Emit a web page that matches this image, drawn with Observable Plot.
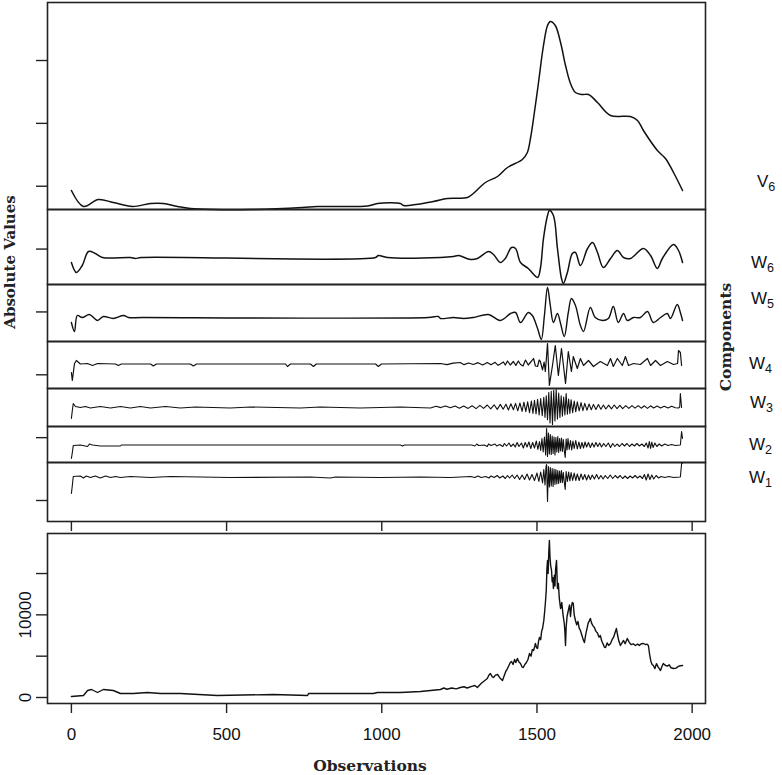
<!DOCTYPE html>
<html><head><meta charset="utf-8">
<script src="https://cdn.jsdelivr.net/npm/d3@7"></script>
<script src="https://cdn.jsdelivr.net/npm/@observablehq/plot@0.6"></script>
<style>
body{margin:0;background:#fff;}
#chart{position:relative;width:782px;height:775px;overflow:hidden;background:#fff;}
#chart svg{position:absolute;left:0;}
.lab{position:absolute;font-family:"Liberation Sans",Arial,sans-serif;font-size:17px;line-height:17px;color:#111;white-space:nowrap;}
.lab sub{font-size:12.5px;vertical-align:-4px;line-height:0;}
.ttl{position:absolute;font-family:"DejaVu Serif",serif;font-weight:bold;color:#222;white-space:nowrap;transform:translate(-50%,-50%);}
</style></head><body><div id="chart"></div>
<script>
// ---- data: [observation, value] ----
const V6 = [[0,1503],[39,431],[87,900],[135,699],[197,431],[255,632],[296,632],[342,431],[383,297],[458,230],[577,230],[744,364],[793,431],[954,465],[986,632],[1060,632],[1070,498],[1166,766],[1211,967],[1276,1034],[1295,1302],[1334,2039],[1373,2441],[1405,3044],[1453,3580],[1469,4049],[1479,4987],[1489,6327],[1505,8739],[1521,11218],[1534,12558],[1543,12826],[1559,12558],[1576,11419],[1592,9878],[1608,8672],[1624,8069],[1646,7935],[1666,7935],[1695,7399],[1737,6528],[1801,6461],[1824,6193],[1843,5523],[1888,4183],[1914,3647],[1940,2709],[1969,1503]];
const W6 = [[0,-250],[16,-750],[35,-400],[55,300],[77,200],[100,0],[190,0],[206,-50],[225,0],[980,0],[989,100],[1018,0],[1189,0],[1231,50],[1247,100],[1286,-100],[1308,-50],[1344,300],[1360,150],[1382,-250],[1398,-50],[1418,500],[1431,450],[1447,-250],[1472,-550],[1502,-1000],[1511,-550],[1521,950],[1534,2100],[1540,2350],[1553,2100],[1566,450],[1579,-1050],[1585,-1300],[1598,-750],[1614,200],[1624,250],[1640,-400],[1663,450],[1679,750],[1695,250],[1714,-500],[1737,-50],[1759,350],[1779,0],[1801,-50],[1843,450],[1866,100],[1888,-550],[1904,-50],[1940,650],[1956,350],[1969,-250]];
const W5 = [[0,-200],[10,-560],[19,80],[35,0],[58,120],[84,-120],[103,40],[135,-40],[168,80],[184,0],[229,0],[1150,0],[1182,40],[1189,-40],[1231,0],[1263,-40],[1295,0],[1344,120],[1382,-120],[1415,160],[1431,200],[1447,-200],[1472,200],[1485,80],[1502,-440],[1514,-880],[1524,80],[1534,1200],[1543,480],[1553,-200],[1566,160],[1576,-240],[1588,-760],[1601,200],[1611,760],[1624,480],[1640,-320],[1650,-560],[1672,400],[1688,0],[1711,-120],[1730,-40],[1746,440],[1762,-200],[1779,160],[1791,-120],[1811,0],[1833,0],[1856,240],[1875,-200],[1898,0],[1920,160],[1930,-40],[1952,520],[1962,200],[1969,-120]];
const W4 = [[0,-255],[3,-495],[10,15],[16,105],[29,0],[52,15],[68,-45],[84,15],[142,0],[151,-45],[161,0],[255,0],[264,-60],[274,0],[383,0],[393,-60],[403,0],[690,0],[696,-75],[706,0],[770,0],[780,-75],[789,0],[980,0],[989,-75],[999,0],[1189,15],[1210,-20],[1230,25],[1253,45],[1265,-20],[1280,30],[1295,-15],[1310,40],[1325,-30],[1340,45],[1352,-20],[1365,50],[1375,-40],[1382,0],[1392,60],[1398,-30],[1405,90],[1414,-30],[1424,75],[1432,-40],[1440,90],[1447,-15],[1455,-60],[1463,120],[1472,-30],[1480,60],[1489,165],[1495,-60],[1502,-75],[1507,120],[1511,75],[1518,-180],[1523,60],[1527,-225],[1534,615],[1540,-645],[1550,-45],[1559,555],[1569,-345],[1579,465],[1592,-585],[1601,375],[1611,-225],[1617,225],[1630,-135],[1640,165],[1650,-45],[1666,105],[1682,-75],[1704,75],[1727,-45],[1737,165],[1746,-75],[1759,165],[1775,-45],[1785,225],[1795,-45],[1811,15],[1833,-15],[1856,165],[1866,-45],[1882,105],[1898,-45],[1920,75],[1940,-15],[1953,15],[1956,405],[1962,345],[1966,-45]];
const W3 = [[0,-288],[3,-88],[6,88],[13,13],[29,-13],[45,13],[61,-25],[93,13],[126,-25],[158,13],[190,-25],[222,13],[255,-25],[303,13],[351,-25],[400,0],[512,-25],[577,0],[738,-25],[802,0],[931,-25],[1060,0],[1157,-25],[1175,20],[1190,-15],[1205,25],[1221,-20],[1236,25],[1250,-30],[1264,25],[1278,-35],[1291,30],[1304,-40],[1316,40],[1328,-35],[1340,50],[1351,-45],[1362,55],[1372,-60],[1382,65],[1391,-55],[1400,70],[1408,-75],[1416,80],[1424,-70],[1431,90],[1438,-95],[1445,100],[1452,-110],[1458,120],[1464,-115],[1470,130],[1476,-140],[1482,150],[1487,-160],[1492,170],[1497,-175],[1502,190],[1507,-200],[1512,210],[1517,-220],[1522,240],[1526,-260],[1530,280],[1534,-320],[1538,360],[1542,-400],[1546,390],[1550,-438],[1554,420],[1558,-350],[1562,438],[1566,-300],[1570,350],[1574,-260],[1578,280],[1582,-230],[1586,250],[1590,-200],[1594,338],[1598,-180],[1602,200],[1606,-160],[1610,180],[1615,-140],[1620,150],[1625,-120],[1630,130],[1636,-100],[1642,110],[1648,-90],[1654,90],[1661,-80],[1668,75],[1675,-70],[1682,65],[1690,-60],[1698,60],[1706,-55],[1714,50],[1722,-50],[1731,45],[1740,-45],[1749,50],[1758,-40],[1767,40],[1776,-40],[1786,35],[1796,-35],[1806,35],[1816,-30],[1826,35],[1836,-30],[1846,30],[1856,-35],[1866,30],[1876,-25],[1887,25],[1898,-25],[1910,20],[1922,-25],[1934,20],[1946,-20],[1956,-25],[1960,0],[1962,338],[1966,-13]];
const W2 = [[0,-270],[3,-150],[6,-10],[29,0],[52,-30],[58,20],[68,0],[93,-20],[158,-20],[161,0],[1060,0],[1067,-20],[1073,0],[1290,0],[1300,-20],[1306,20],[1312,-10],[1330,0],[1340,-30],[1344,20],[1352,-10],[1365,20],[1370,-20],[1380,10],[1390,-30],[1395,30],[1402,-20],[1410,40],[1416,-30],[1424,20],[1430,-40],[1436,50],[1442,-30],[1450,40],[1456,-60],[1462,50],[1468,-40],[1474,60],[1480,-70],[1486,50],[1492,-60],[1498,80],[1503,-90],[1508,70],[1512,-110],[1516,130],[1520,-140],[1524,160],[1528,-200],[1531,330],[1534,-230],[1537,240],[1540,-180],[1543,210],[1546,-190],[1549,180],[1552,-170],[1555,160],[1558,-200],[1561,150],[1564,-140],[1567,170],[1570,-150],[1573,130],[1576,-120],[1579,140],[1582,-130],[1585,110],[1588,-110],[1591,-250],[1594,120],[1597,-100],[1600,130],[1604,-90],[1608,90],[1612,-100],[1616,80],[1620,-70],[1625,90],[1630,-80],[1635,60],[1640,-70],[1645,50],[1650,-60],[1655,60],[1660,-40],[1666,50],[1672,-50],[1678,40],[1684,-40],[1690,50],[1696,-30],[1702,40],[1708,-40],[1715,30],[1722,-30],[1730,40],[1737,-50],[1744,30],[1751,-30],[1758,20],[1766,-30],[1774,30],[1782,-20],[1790,30],[1798,-30],[1806,20],[1814,-20],[1822,30],[1830,-20],[1838,20],[1846,-30],[1852,40],[1858,-60],[1862,70],[1866,-70],[1870,60],[1874,-50],[1880,40],[1886,-30],[1894,20],[1902,-20],[1912,20],[1922,-10],[1934,10],[1946,-10],[1962,0],[1966,270],[1969,130]];
const W1 = [[0,-330],[3,-170],[6,10],[29,20],[39,-20],[48,20],[61,-10],[77,20],[93,-20],[110,20],[126,-10],[142,10],[158,-10],[190,10],[255,-10],[319,10],[416,0],[512,-10],[770,0],[834,-20],[851,0],[996,-10],[1125,0],[1221,-10],[1286,10],[1300,-10],[1310,20],[1320,-10],[1335,10],[1345,-20],[1352,20],[1362,-10],[1372,30],[1380,-20],[1390,20],[1398,-30],[1405,30],[1412,-20],[1420,40],[1428,-30],[1436,40],[1444,-50],[1452,40],[1460,-50],[1468,60],[1476,-60],[1484,50],[1492,-70],[1500,80],[1506,-90],[1512,100],[1518,-120],[1522,150],[1526,-160],[1529,200],[1531,250],[1534,-490],[1537,210],[1540,-200],[1543,190],[1546,-180],[1549,170],[1552,-190],[1555,160],[1558,-150],[1561,150],[1564,-140],[1567,130],[1570,-130],[1573,120],[1576,-110],[1579,130],[1582,-110],[1585,90],[1588,-100],[1591,-250],[1594,110],[1598,-90],[1602,100],[1606,-80],[1610,90],[1615,-70],[1620,80],[1625,-70],[1630,60],[1636,-70],[1642,60],[1648,-50],[1654,50],[1660,-60],[1666,40],[1672,-50],[1678,40],[1685,-40],[1692,50],[1699,-40],[1706,30],[1713,-40],[1720,30],[1728,-30],[1736,40],[1744,-30],[1752,30],[1760,-20],[1768,30],[1776,-30],[1784,20],[1792,-30],[1800,20],[1808,-20],[1816,30],[1824,-20],[1832,20],[1840,-30],[1846,50],[1852,-60],[1858,60],[1864,-50],[1870,40],[1876,-40],[1884,30],[1892,-20],[1900,10],[1912,-10],[1925,10],[1940,-10],[1962,0],[1966,270],[1969,280]];
const price = [[0,121],[39,242],[52,847],[65,968],[84,605],[103,968],[135,847],[158,484],[200,484],[245,605],[287,484],[351,484],[470,242],[651,363],[761,242],[764,484],[973,484],[986,605],[1060,605],[1125,726],[1189,968],[1200,1150],[1210,1000],[1225,1150],[1240,1050],[1253,1210],[1265,1300],[1275,1150],[1290,1350],[1300,1450],[1308,1210],[1320,1700],[1330,2000],[1340,2300],[1345,2700],[1350,2904],[1356,2500],[1360,2420],[1366,2700],[1373,2783],[1380,2400],[1389,2057],[1395,2700],[1400,3200],[1405,3500],[1410,3900],[1414,4235],[1418,4356],[1423,4000],[1428,4600],[1432,4235],[1437,4719],[1442,4300],[1447,4114],[1452,3700],[1456,3630],[1461,4000],[1466,4235],[1471,4600],[1476,5324],[1481,5000],[1485,5800],[1489,5687],[1493,6200],[1495,6534],[1499,6000],[1502,5929],[1505,6800],[1508,7260],[1512,7000],[1515,8000],[1518,8349],[1522,9300],[1525,10500],[1527,11374],[1530,13000],[1532,15500],[1534,16577],[1536,15000],[1538,17500],[1540,18997],[1542,17000],[1544,16000],[1547,15367],[1549,14000],[1551,14500],[1553,13189],[1556,14800],[1558,13500],[1560,15500],[1563,16577],[1566,13189],[1569,13800],[1572,12000],[1576,10769],[1580,11500],[1584,10000],[1588,8954],[1590,8000],[1592,6292],[1594,8500],[1597,9800],[1601,10527],[1605,11200],[1608,9800],[1611,11000],[1614,11500],[1617,11374],[1620,10000],[1624,9317],[1628,8800],[1632,9200],[1636,8400],[1640,8107],[1645,7500],[1649,7000],[1653,6655],[1657,7600],[1661,8300],[1665,9000],[1669,9300],[1672,9559],[1676,9000],[1680,8700],[1685,8470],[1690,8000],[1695,7800],[1700,7300],[1704,7502],[1709,6800],[1714,6400],[1717,6100],[1721,6050],[1726,6600],[1731,6300],[1737,6534],[1742,7000],[1747,7300],[1752,7900],[1756,8349],[1760,7500],[1764,6800],[1769,6292],[1774,6600],[1779,6900],[1784,6500],[1791,7139],[1797,6700],[1803,6400],[1810,6500],[1817,6292],[1824,6450],[1830,6300],[1836,6500],[1843,6534],[1850,6400],[1855,6450],[1859,6292],[1863,5200],[1867,4400],[1871,4000],[1875,3872],[1880,3500],[1885,4100],[1890,3700],[1894,3500],[1898,3267],[1902,3700],[1907,4114],[1913,3900],[1920,3800],[1926,3950],[1932,3600],[1940,3509],[1948,3550],[1955,3750],[1962,3850],[1969,3872]];

const componentNames = ["V6","W6","W5","W4","W3","W2","W1"];
const componentData = [V6, W6, W5, W4, W3, W2, W1];
const xTicks = [0, 500, 1000, 1500, 2000];
const xTickLabels = ["0", "500", "1000", "1500", "2000"];
const upperYTicks = [0, 1, 2, 3, 4, 5, 6, 7];
const priceTicks = [0, 5000, 10000, 15000];
const priceTickLabels = ["0", "", "10000", ""];
const yTitle = "Absolute Values";
const rightTitle = "Components";
const xTitle = "Observations";

// ---- layout ----
const W = 782, mL = 47, mR = 77;
const xDomain = [-77, 2043];
const panelTops = [2, 209, 284, 341, 388, 426, 462, 521];
const panelDomains = [[230,14099],[-1350,2400],[-960,1320],[-735,675],[-487.5,462.5],[-350,370],[-890,290]];
const smooth = [true, true, true, false, false, false, false];
const lineWidths = [1.5, 1.5, 1.4, 1.2, 1.1, 1.1, 1.1];
const labelPos = [[757,181],[751,262],[751,298],[749,363],[750,402],[749,444],[749,477]];
const ink = "#111", frameInk = "#222";
const chart = document.getElementById("chart");
const baseStyle = {background: "transparent", overflow: "visible", color: frameInk, fontFamily: "'Liberation Sans', Arial, sans-serif", fontSize: "17px"};

function place(svg, top) { svg.style.top = top + "px"; chart.appendChild(svg); }

// outer axes for stacked components
place(Plot.plot({
  width: W, height: 532, marginLeft: mL, marginRight: mR, marginTop: 2, marginBottom: 11,
  style: baseStyle,
  x: {domain: xDomain}, y: {domain: [-0.334, 7.923]},
  marks: [
    Plot.axisX({ticks: xTicks, tickFormat: () => "", tickSize: 10, strokeWidth: 1.4}),
    Plot.axisY({ticks: upperYTicks, tickFormat: () => "", tickSize: 11, strokeWidth: 1.4})
  ]
}), 0);

// component panels
componentData.forEach((data, i) => {
  const top = panelTops[i], h = panelTops[i + 1] - top;
  place(Plot.plot({
    width: W, height: h, marginLeft: mL, marginRight: mR, marginTop: 0, marginBottom: 0,
    style: baseStyle,
    x: {domain: xDomain, axis: null},
    y: {domain: panelDomains[i], axis: null},
    marks: [
      Plot.frame({stroke: frameInk, strokeWidth: 1.6}),
      Plot.line(data, {x: d => d[0], y: d => d[1], stroke: ink, strokeWidth: lineWidths[i],
        curve: smooth[i] ? "catmull-rom" : "linear"})
    ]
  }), top);
  const lab = document.createElement("div");
  lab.className = "lab";
  lab.style.left = labelPos[i][0] + "px";
  lab.style.top = (labelPos[i][1] - 8) + "px";
  lab.innerHTML = componentNames[i][0] + "<sub>" + componentNames[i].slice(1) + "</sub>";
  chart.appendChild(lab);
});

// original series panel
place(Plot.plot({
  width: W, height: 242, marginLeft: mL, marginRight: mR, marginTop: 0, marginBottom: 72,
  style: baseStyle,
  x: {domain: xDomain}, y: {domain: [-726, 19844]},
  marks: [
    Plot.frame({stroke: frameInk, strokeWidth: 1.6}),
    Plot.axisX({ticks: xTicks, tickFormat: (d, i) => xTickLabels[i], tickSize: 10, tickPadding: 14, strokeWidth: 1.4, fill: ink}),
    Plot.axisY({ticks: priceTicks, tickFormat: (d, i) => priceTickLabels[i], tickSize: 11, tickPadding: 6, tickRotate: -90, strokeWidth: 1.4, fill: ink}),
    Plot.line(price, {x: d => d[0], y: d => d[1], stroke: ink, strokeWidth: 1.4})
  ]
}), 533);

function title(text, x, y, size, rot) {
  const d = document.createElement("div");
  d.className = "ttl";
  d.textContent = text;
  d.style.left = x + "px"; d.style.top = y + "px"; d.style.fontSize = size + "px";
  if (rot) d.style.transform = "translate(-50%,-50%) rotate(-90deg)";
  chart.appendChild(d);
}
title(yTitle, 10, 262, 15, true);
title(rightTitle, 725, 337, 15.5, true);
title(xTitle, 370, 765, 15.5, false);
</script></body></html>
